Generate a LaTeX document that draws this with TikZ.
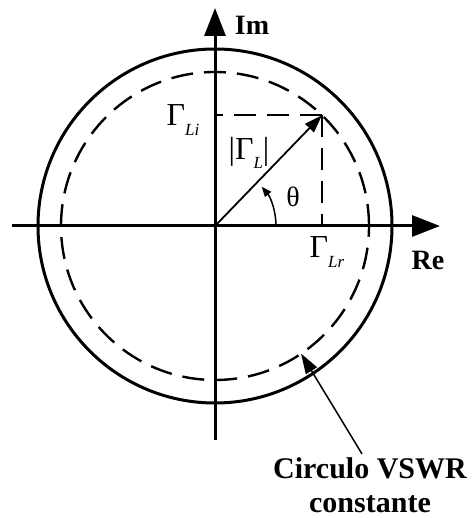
\documentclass[tikz,border=0pt]{standalone}
\usepackage{fontspec}
\setmainfont{Liberation Serif}
\usetikzlibrary{arrows.meta}

\newcommand{\sublbl}[1]{\raisebox{-0.3em}{\fontsize{17}{17}\selectfont\itshape #1}}

\begin{document}
\begin{tikzpicture}[x=1pt, y=1pt,
	axis/.style={line width=3pt, -{Triangle[length=28pt, width=21pt]}},
	bigtxt/.style={font=\fontsize{28}{30}\selectfont\bfseries},
	gtxt/.style={font=\fontsize{32}{34}\selectfont},
	dashline/.style={line width=2.4pt, dash pattern=on 22pt off 11pt}]
	\useasboundingbox (-215, -292) rectangle (256, 226);

	%% points
	\coordinate (O) at (0, 0);
	\coordinate (P) at (46:154);
	\coordinate (tip) at (-56:154);

	%% circles
	\draw[line width=3pt] (O) circle[radius=177pt];
	\draw[dashline] (O) circle[radius=154pt];

	%% axes
	\draw[axis] (-203, 0) -- (225, 0);
	\draw[axis] (0, -214) -- (0, 218);
	\node[bigtxt] (im) at (37, 201) {Im};
	\node[bigtxt] (re) at (213, -34) {Re};

	%% projections
	\draw[dashline] (P) -- (P -| O);
	\draw[dashline] (P) -- (P |- O);

	%% reflection vector
	\draw[line width=1.8pt, -{Triangle[length=18pt, width=12pt]}] (O) -- (P);
	\draw[line width=1.5pt, -{Triangle[length=10pt, width=8pt]}] (61pt, 0) arc[start angle=0, end angle=40, radius=61pt];

	%% labels
	\node[gtxt] (gli) at (-32, 106) {Γ\sublbl{Li}};
	\node[gtxt] (gl) at (34, 73) {|Γ\sublbl{L}|};
	\node[font=\fontsize{28}{30}\selectfont] (th) at (78, 29) {θ};
	\node[gtxt] (glr) at (112, -26) {Γ\sublbl{Lr}};

	%% constant VSWR circle
	\node[bigtxt, font=\fontsize{30}{34}\selectfont\bfseries, align=center] (vswr) at (155, -259) {Circulo VSWR\\constante};
	\draw[line width=1.5pt, -{Triangle[length=20pt, width=13pt]}] ([xshift=-8pt]vswr.north) -- (tip);
\end{tikzpicture}
\end{document}
